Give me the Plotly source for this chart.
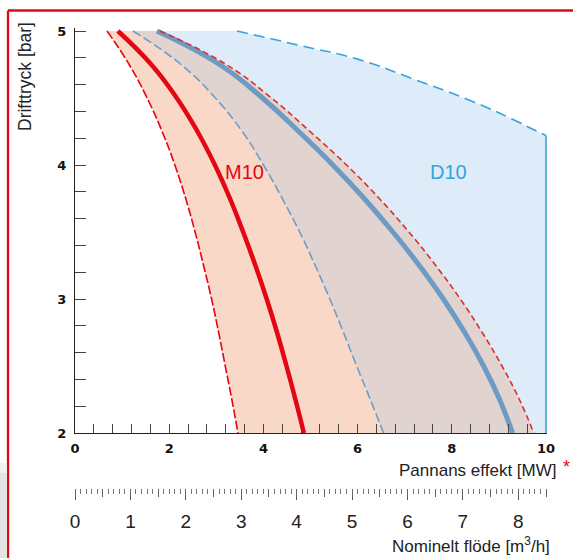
import plotly.graph_objects as go

# ---------------- data ----------------
pressure_bar = [5, 4.75, 4.5, 4.25, 4, 3.75, 3.5, 3.25, 3, 2.75, 2.5, 2.25, 2]

m10_min = [0.68, 1.15, 1.53, 1.85, 2.12, 2.35, 2.55, 2.73, 2.90, 3.05, 3.19, 3.33, 3.46]
m10_nom = [0.91, 1.62, 2.16, 2.60, 2.97, 3.29, 3.57, 3.83, 4.07, 4.29, 4.49, 4.68, 4.86]
m10_max = [1.80, 3.21, 4.17, 4.99, 5.765, 6.46, 7.09, 7.66, 8.18, 8.645, 9.065, 9.435, 9.74]

d10_min = [1.23, 2.25, 2.98, 3.55, 4.00, 4.40, 4.77, 5.10, 5.41, 5.70, 5.98, 6.27, 6.55]
d10_nom = [1.74, 3.07, 3.98, 4.75, 5.475, 6.14, 6.75, 7.31, 7.82, 8.275, 8.675, 9.015, 9.29]

d10_max_x = [3.44, 4.8, 6.0, 7.2, 8.4, 9.3, 9.7, 10.0]
d10_max_y = [5.0, 4.89, 4.79, 4.64, 4.48, 4.34, 4.27, 4.22]

y_tick_vals = [2 + 0.2 * i for i in range(16)]
y_tick_text = ["2", "", "", "", "", "3", "", "", "", "", "4", "", "", "", "", "5"]
x_tick_vals = [0.4 * i for i in range(26)]
x_tick_text = ["0", "", "", "", "", "2", "", "", "", "", "4", "", "", "", "", "6",
               "", "", "", "", "8", "", "", "", "", "10"]
flow_tick_vals = [0, 1, 2, 3, 4, 5, 6, 7, 8]
flow_tick_text = ["0", "1", "2", "3", "4", "5", "6", "7", "8"]
flow_half_vals = [0.5 * i for i in range(18)]
flow_minor_vals = [0.1 * i for i in range(86)]

MW_MAX = 10.0
FLOW_MAX = 8.5

RED = "#e30613"
RED_D = "#d8322a"
BLUE_L = "#6a9ecb"
BLUE_T = "#6d9bc3"
BLUE_B = "#36a3df"
FILL_BLUE = "#deebf8"
FILL_SALMON = "#f9d8c8"
FILL_OVER = "#e0d3d0"
SMOOTH = 1.3

W, H = 573, 558
ML, MR, MT, MB = 75, 26, 28, 70
plot_w = W - ML - MR
x_top = MW_MAX * plot_w / 471.0
flow_top = FLOW_MAX * plot_w / 471.0
plot_h = H - MT - MB
y_dom0 = (H - MB - 433) / plot_h
y_top = 2 + (433 - MT) / 134.0

fig = go.Figure()

def inv(x, y, fill=None, fc=None, shape="spline"):
    line = dict(width=0, shape=shape)
    if shape == "spline":
        line["smoothing"] = SMOOTH
    return go.Scatter(x=x, y=y, mode="lines", line=line,
                      fill=fill, fillcolor=fc, hoverinfo="skip", showlegend=False)

# D10 area
fig.add_trace(inv(d10_min, pressure_bar))
fig.add_trace(inv(d10_max_x + [d10_max_x[-1]], d10_max_y + [pressure_bar[-1]],
                  fill="tonextx", fc=FILL_BLUE, shape="linear"))
# M10 area
fig.add_trace(inv(m10_min, pressure_bar))
fig.add_trace(inv(m10_max, pressure_bar, fill="tonextx", fc=FILL_SALMON))
# overlap area
fig.add_trace(inv(d10_min, pressure_bar))
fig.add_trace(inv(m10_max, pressure_bar, fill="tonextx", fc=FILL_OVER))

def ln(x, y, color, width, dash="solid", shape="spline"):
    line = dict(color=color, width=width, dash=dash, shape=shape)
    if shape == "spline":
        line["smoothing"] = SMOOTH
    return go.Scatter(x=x, y=y, mode="lines", line=line,
                      hoverinfo="skip", showlegend=False)

fig.add_trace(ln(d10_max_x, d10_max_y, BLUE_B, 1.6, "11px,6px"))
fig.add_trace(ln([d10_max_x[-1], d10_max_x[-1]], [d10_max_y[-1], pressure_bar[-1]], BLUE_B, 1.6, shape="linear"))
fig.add_trace(ln(d10_min, pressure_bar, BLUE_L, 1.6, "9px,3.5px"))
fig.add_trace(ln(m10_min, pressure_bar, RED, 1.6, "9px,2.5px"))
fig.add_trace(ln(d10_nom, pressure_bar, BLUE_T, 5))
fig.add_trace(ln(m10_max, pressure_bar, RED_D, 1.6, "6px,3.5px"))
fig.add_trace(ln(m10_nom, pressure_bar, RED, 4.5))

# dummy traces for the flow ruler axes
fig.add_trace(go.Scatter(x=[0], y=[0], xaxis="x2", yaxis="y2", mode="markers",
                         marker=dict(opacity=0), hoverinfo="skip", showlegend=False))
fig.add_trace(go.Scatter(x=[0], y=[0], xaxis="x3", yaxis="y2", mode="markers",
                         marker=dict(opacity=0), hoverinfo="skip", showlegend=False))

fig.add_annotation(x=3.6, y=3.95, text="M10", showarrow=False,
                   font=dict(family="Liberation Sans, Arial", size=20, color=RED))
fig.add_annotation(x=7.92, y=3.95, text="D10", showarrow=False,
                   font=dict(family="Liberation Sans, Arial", size=20, color=BLUE_B))

SANS = "Liberation Sans, Arial"

def px_x(px):
    return (px - ML) / plot_w

def px_y(py):
    return (H - MB - py) / plot_h

fig.add_annotation(xref="paper", yref="paper", x=px_x(25), y=px_y(77), text="Drifttryck [bar]",
                   textangle=-90, showarrow=False, xanchor="center", yanchor="middle",
                   font=dict(family=SANS, size=17.5, color="#222"))
fig.add_annotation(xref="paper", yref="paper", x=px_x(558), y=px_y(470), text="Pannans effekt [MW]",
                   showarrow=False, xanchor="right", yanchor="middle",
                   font=dict(family=SANS, size=17, color="#222"))
fig.add_annotation(xref="paper", yref="paper", x=px_x(566), y=px_y(467), text="*",
                   showarrow=False, xanchor="center", yanchor="middle",
                   font=dict(family=SANS, size=18, color=RED))
fig.add_annotation(xref="paper", yref="paper", x=px_x(552), y=px_y(545), text="Nominelt flöde [m<sup>3</sup>/h]",
                   showarrow=False, xanchor="right", yanchor="middle",
                   font=dict(family=SANS, size=17, color="#222"))

fig.add_shape(type="line", xref="paper", yref="paper", x0=px_x(8), x1=px_x(W + 5),
              y0=px_y(10.5), y1=px_y(10.5), line=dict(color=RED, width=2.3))
fig.add_shape(type="line", xref="paper", yref="paper", x0=px_x(8), x1=px_x(8),
              y0=px_y(10.5), y1=px_y(H + 5), line=dict(color=RED, width=2.3))
fig.add_shape(type="rect", xref="paper", yref="paper", x0=px_x(-2), x1=px_x(6.8),
              y0=px_y(H + 5), y1=px_y(463), line=dict(width=0), fillcolor="#f1f1f1")
fig.add_shape(type="rect", xref="paper", yref="paper", x0=px_x(-2), x1=px_x(6.8),
              y0=px_y(H + 5), y1=px_y(473), line=dict(width=0), fillcolor="#e4e4e4")

BOLD = dict(family="DejaVu Sans", size=13, color="#111")

fig.update_layout(
    width=W, height=H,
    margin=dict(l=ML, r=MR, t=MT, b=MB),
    paper_bgcolor="white", plot_bgcolor="rgba(0,0,0,0)",
    showlegend=False,
    xaxis=dict(range=[0, x_top], domain=[0, 1], anchor="y", showline=True, linecolor="#222",
               linewidth=1, ticks="inside", ticklen=9, tickwidth=1, tickcolor="#444",
               tickvals=x_tick_vals, ticktext=["<b>%s</b>" % t if t else "" for t in x_tick_text],
               tickfont=BOLD, ticklabelstandoff=3,
               showgrid=False, zeroline=False, fixedrange=True),
    yaxis=dict(range=[2, y_top], domain=[y_dom0, 1], anchor="x", showline=True, linecolor="#222",
               linewidth=1, ticks="inside", ticklen=11, tickwidth=1, tickcolor="#444",
               tickvals=y_tick_vals, ticktext=["<b>%s</b>" % t if t else "" for t in y_tick_text],
               tickfont=BOLD, ticklabelstandoff=5,
               showgrid=False, zeroline=False, fixedrange=True),
    xaxis2=dict(range=[0, flow_top], domain=[0, 1], anchor="y2", showline=False,
                ticks="outside", ticklen=11, tickwidth=1.2, tickcolor="#555",
                tickvals=flow_tick_vals, ticktext=flow_tick_text,
                tickfont=dict(family=SANS, size=19, color="#222"),
                ticklabelstandoff=5,
                minor=dict(tickvals=flow_minor_vals, ticks="outside", ticklen=5, tickwidth=1, tickcolor="#777"),
                showgrid=False, zeroline=False, fixedrange=True),
    xaxis3=dict(range=[0, flow_top], domain=[0, 1], anchor="y2", overlaying="x2", side="bottom",
                showline=False, ticks="outside", ticklen=8, tickwidth=1, tickcolor="#666",
                tickvals=flow_half_vals, showticklabels=False,
                showgrid=False, zeroline=False, fixedrange=True),
    yaxis2=dict(domain=[0, 0.002], anchor="x2", visible=False, range=[0, 1], fixedrange=True),
)

fig.write_html("out.html", config={"displayModeBar": False},
               post_script="document.body.style.margin='0';document.body.style.padding='0';")
